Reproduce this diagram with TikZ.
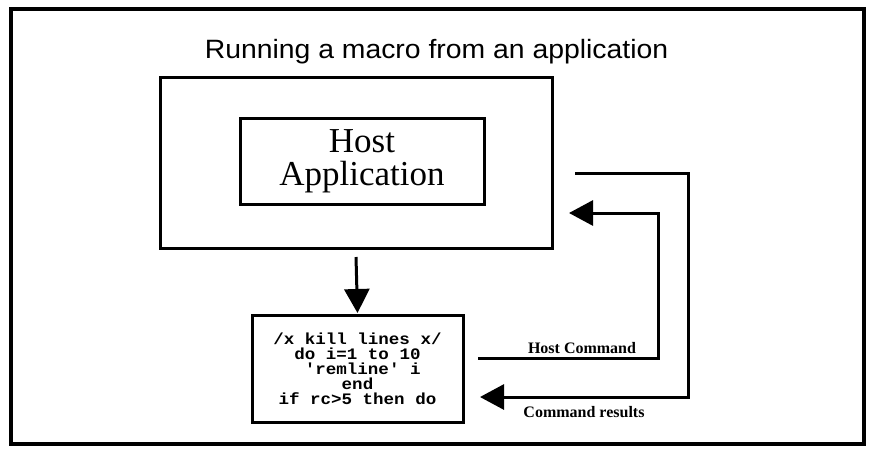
\documentclass[tikz,border=0pt]{standalone}
\usepackage{fontspec}
\setmainfont{Liberation Serif}
\setsansfont{Liberation Sans}
\setmonofont{Liberation Mono}
\newfontfamily\titlefont[FakeStretch=1.07]{Liberation Sans}
\newfontfamily\codefont[FakeStretch=1.094]{Liberation Mono}
\usetikzlibrary{arrows.meta}
\begin{document}
\begin{tikzpicture}[x=1pt,y=-1pt,
  box/.style={draw, line width=3pt, rectangle, inner sep=0pt},
  conn/.style={line width=3pt, line join=miter, -{Triangle[length=24pt,width=25pt]}},
  lbl/.style={font=\fontsize{16}{18}\selectfont\bfseries\rmfamily, anchor=base, inner sep=0pt}]
\useasboundingbox (0,0) rectangle (870,451);
\node[draw, line width=4pt, inner sep=0pt, minimum width=853pt, minimum height=435pt] (frame) at (437.5,226.5) {};
\node[font=\fontsize{26.5}{30}\selectfont\titlefont, anchor=base, inner sep=0pt] (title) at (436.5,58) {Running a macro from an application};
\node[box, minimum width=392pt, minimum height=171pt] (outer) at (356,162.5) {};
\node[box, minimum width=244pt, minimum height=86pt, align=center,
  font=\fontsize{35}{33}\selectfont\rmfamily] (inner) at (362,161) {Host\\Application};
\node[box, minimum width=211pt, minimum height=107pt, align=center,
  font={\fontsize{16}{15}\selectfont\codefont\bfseries\lineskiplimit=-30pt}] (code) at (357.5,368.5)
  {/x kill lines x/\\do i=1 to 10\\\ 'remline' i\\end\\if rc>5 then do};
\draw[conn] (outer.south |- 0,257) -- (code.north |- 0,313);
\coordinate (hcstart) at (478,358);
\coordinate (hcend) at (569,213);
\draw[conn] (hcstart) -- (658,358) -- (658,213) -- (hcend);
\coordinate (crstart) at (575,173);
\coordinate (crend) at (480,397);
\draw[conn] (crstart) -- (688,173) -- (688,397) -- (crend);
\node[lbl] (hclabel) at (582,353) {Host Command};
\node[lbl] (crlabel) at (584,417) {Command results};
\end{tikzpicture}
\end{document}
